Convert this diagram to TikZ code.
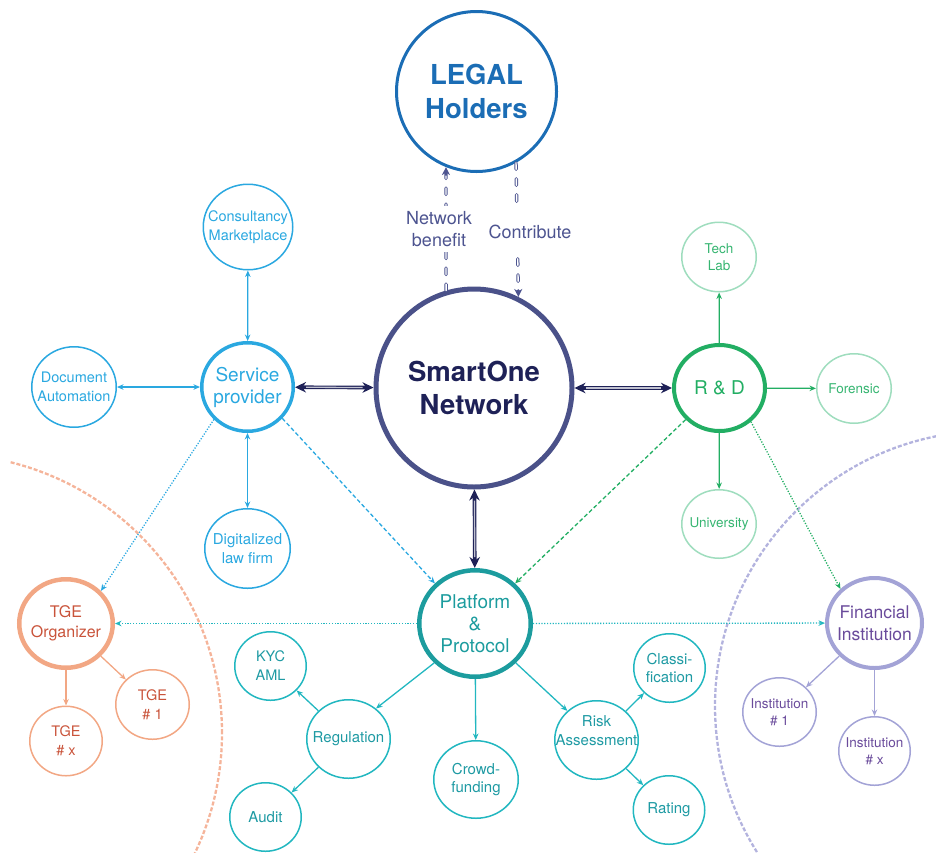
\documentclass[tikz,border=0pt]{standalone}
\usepackage{fontspec}
\setmainfont{TeX Gyre Heros}
\usetikzlibrary{arrows.meta,shapes.geometric}
\definecolor{legalc}{HTML}{1B6DB5}
\definecolor{smartc}{HTML}{4A5189}
\definecolor{navy}{HTML}{1E2157}
\definecolor{benefitc}{HTML}{4D5490}
\definecolor{servc}{HTML}{2AA8E0}
\definecolor{rdc}{HTML}{22AE63}
\definecolor{rdlight}{HTML}{9FDDBE}
\definecolor{rdtext}{HTML}{36B571}
\definecolor{platc}{HTML}{1C9C9E}
\definecolor{platlight}{HTML}{22B7C0}
\definecolor{plattext}{HTML}{1E9AA3}
\definecolor{tgec}{HTML}{F2A784}
\definecolor{tgetext}{HTML}{C9533A}
\definecolor{finc}{HTML}{A3A3D6}
\definecolor{fintext}{HTML}{6A4B9B}
\definecolor{arcs}{HTML}{F5B49A}
\definecolor{arcp}{HTML}{B3B3DE}
\begin{document}
\begin{tikzpicture}[x=1pt,y=-1pt,
  ell/.style n args={2}{ellipse,inner xsep=-22pt,inner ysep=-10pt,align=center,minimum width=#1,minimum height=#2},
  lk/.style={line width=1.3pt,-{Stealth[length=6.5pt,width=5.5pt]}},
  bi/.style={line width=1.3pt,{Stealth[length=6.5pt,width=5.5pt]}-{Stealth[length=6.5pt,width=5.5pt]}},
  dblo/.style={draw=navy,line width=3.6pt,{Stealth[length=11pt,width=10.5pt]}-{Stealth[length=11pt,width=10.5pt]}},
  dbli/.style={draw=white!72!navy,line width=1.3pt,shorten <=11pt,shorten >=11pt},
  dashl/.style={lk,dash pattern=on 4pt off 2.5pt},
  dotl/.style={lk,dash pattern=on 1.2pt off 1.6pt},
  leglo/.style={draw=benefitc,line width=3.4pt,dash pattern=on 6.5pt off 9.5pt,line cap=round,-{Stealth[length=8pt,width=8pt,inset=2.5pt]}},
  legli/.style={draw=white,line width=1.4pt,dash pattern=on 6.5pt off 9.5pt,line cap=round,shorten >=9pt},
  big/.style={font=\bfseries\fontsize{27.5}{33.5}\selectfont},
  f19/.style={font=\fontsize{19}{22}\selectfont},
  f17/.style={font=\fontsize{17.5}{22}\selectfont},
  f16/.style={font=\fontsize{16}{20}\selectfont},
  f15/.style={font=\fontsize{15}{18.5}\selectfont},
  f14/.style={font=\fontsize{14.5}{19}\selectfont},
  f13/.style={font=\fontsize{13.5}{16.5}\selectfont},
  lab/.style={fill=white,text=benefitc,align=center,font=\fontsize{18}{22}\selectfont,inner xsep=1pt}
]
\useasboundingbox (0,0) rectangle (936,852);
% background arcs
\begin{scope}
  \clip (10,0) rectangle (936,852);
  \draw[arcs,line width=2.3pt,dash pattern=on 4pt off 2pt] (-57,733) circle[radius=279pt];
  \draw[arcp,line width=2.3pt,dash pattern=on 4pt off 2pt] (990,706) circle[radius=275pt];
\end{scope}
% main nodes
\node[ell={160pt}{160pt},draw=legalc,line width=3pt,text=legalc,big] (legal) at (476.5,91.5) {LEGAL\\Holders};
\node[ell={196pt}{198pt},draw=smartc,line width=5pt,text=navy,big] (smart) at (474,388) {SmartOne\\Network};
\node[ell={91.5pt}{88.5pt},draw=servc,line width=3.5pt,text=servc,f19] (serv) at (247.5,387) {Service\\provider};
\node[ell={89.5pt}{85.5pt},draw=servc,line width=1.5pt,text=servc,f14] (cons) at (248,227) {Consultancy\\Marketplace};
\node[ell={84.5pt}{80.5pt},draw=servc,line width=1.5pt,text=servc,f14] (doc) at (74,387) {Document\\Automation};
\node[ell={85.5pt}{79.5pt},draw=servc,line width=1.5pt,text=servc,f15] (dig) at (247.5,548.5) {Digitalized\\law firm};
\node[ell={91pt}{86pt},draw=rdc,line width=4pt,text=rdc,f19] (rd) at (719.5,388) {R \& D};
\node[ell={74.5pt}{69.5pt},draw=rdlight,line width=1.5pt,text=rdtext,f13] (tech) at (719,257) {Tech\\Lab};
\node[ell={74.5pt}{69.5pt},draw=rdlight,line width=1.5pt,text=rdtext,f13] (foren) at (854,388.5) {Forensic};
\node[ell={74.5pt}{68.5pt},draw=rdlight,line width=1.5pt,text=rdtext,f13] (univ) at (719,524) {University};
\node[ell={111.5pt}{106.5pt},draw=platc,line width=4.5pt,text=platc,f19] (plat) at (475,623.5) {Platform\\\&\\Protocol};
\node[ell={93.5pt}{88.5pt},draw=tgec,line width=4.5pt,text=tgetext,f16] (tge) at (66,623.5) {TGE\\Organizer};
\node[ell={73.5pt}{69.5pt},draw=tgec,line width=1.5pt,text=tgetext,f14] (tgea) at (152.5,704.5) {TGE\\\# 1};
\node[ell={72.5pt}{69.5pt},draw=tgec,line width=1.5pt,text=tgetext,f14] (tgex) at (66,741) {TGE\\\# x};
\node[ell={71.5pt}{68.5pt},draw=platlight,line width=1.5pt,text=plattext,f14] (kyc) at (270.5,666) {KYC\\AML};
\node[ell={83.5pt}{78.5pt},draw=platlight,line width=1.5pt,text=plattext,f15] (reg) at (348.5,739) {Regulation};
\node[ell={71.5pt}{68.5pt},draw=platlight,line width=1.5pt,text=plattext,f15] (audit) at (265.5,817) {Audit};
\node[ell={84.5pt}{77.5pt},draw=platlight,line width=1.5pt,text=plattext,f15] (crowd) at (476,779.5) {Crowd-\\funding};
\node[ell={83.5pt}{78.5pt},draw=platlight,line width=1.5pt,text=plattext,f15] (risk) at (596.5,740) {Risk\\Assessment\\\mbox{}};
\node[ell={71.5pt}{68.5pt},draw=platlight,line width=1.5pt,text=plattext,f15] (classi) at (669.5,668) {Classi-\\fication};
\node[ell={71.5pt}{68.5pt},draw=platlight,line width=1.5pt,text=plattext,f15] (rating) at (669,810) {Rating};
\node[ell={95pt}{90pt},draw=finc,line width=4pt,text=fintext,f17] (fin) at (874.5,623) {Financial\\Institution};
\node[ell={73.5pt}{68.5pt},draw=finc,line width=1.5pt,text=fintext,f13] (insta) at (779.5,712) {Institution\\\# 1};
\node[ell={71.5pt}{68.5pt},draw=finc,line width=1.5pt,text=fintext,f13] (instx) at (874.5,751) {Institution\\\# x};
% legal connectors
\draw[leglo] (smart.106.6) -- (legal.-112);
\draw[legli] (smart.106.6) -- (legal.-112);
\draw[leglo] (legal.-61) -- (smart.64.6);
\draw[legli] (legal.-61) -- (smart.64.6);
\node[lab,minimum height=46pt] (nb) at (439,229) {Network\\benefit};
\node[lab,minimum height=46pt] (ctb) at (530,232) {Contribute};
% navy double arrows
\draw[dblo] (serv) -- (smart);
\draw[dbli] (serv) -- (smart);
\draw[dblo] (smart) -- (rd);
\draw[dbli] (smart) -- (rd);
\draw[dblo] (smart) -- (plat);
\draw[dbli] (smart) -- (plat);
% service cluster
\draw[bi,servc] (cons) -- (serv);
\draw[bi,servc] (doc) -- (serv);
\draw[bi,servc] (serv) -- (dig);
\draw[dashl,servc] (serv.-42) -- (plat.135);
\draw[dotl,servc] (serv.-136) -- (tge.43);
% R&D cluster
\draw[lk,rdc] (rd) -- (tech);
\draw[lk,rdc] (rd) -- (foren);
\draw[lk,rdc] (rd) -- (univ);
\draw[dashl,rdc] (rd.223) -- (plat.45);
\draw[dotl,rdc] (rd.-47) -- (fin.135);
% platform cluster
\draw[dotl,platlight] (plat) -- (tge);
\draw[dotl,platlight] (plat) -- (fin);
\draw[lk,platlight] (plat.-136) -- (reg.48);
\draw[lk,platlight] (plat) -- (crowd);
\draw[lk,platlight] (plat.-44) -- (risk.135);
\draw[lk,platlight] (reg) -- (kyc);
\draw[lk,platlight] (reg) -- (audit);
\draw[lk,platlight] (risk) -- (classi);
\draw[lk,platlight] (risk) -- (rating);
% TGE
\draw[lk,tgec] (tge) -- (tgea);
\draw[lk,tgec] (tge) -- (tgex);
% financial
\draw[lk,finc] (fin) -- (insta);
\draw[lk,finc] (fin) -- (instx);
\end{tikzpicture}
\end{document}
